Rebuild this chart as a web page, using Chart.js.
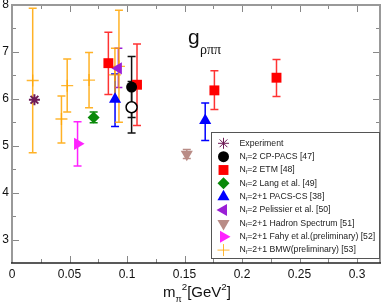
<!DOCTYPE html>
<html>
<head>
<meta charset="utf-8">
<script src="https://cdn.jsdelivr.net/npm/chart.js@4.4.0/dist/chart.umd.min.js"></script>
<style>
  html, body { margin: 0; padding: 0; background: #fff; }
  #wrap { width: 382px; height: 305px; }
</style>
</head>
<body>
<div id="wrap"><canvas id="gChart" width="382" height="305"></canvas></div>
<script>
// x = m_pi^2 [GeV^2], y = g_rho pi pi ; lo / hi = ends of the error bars
const expX = [0.0195];
const expY = [5.98];

const cpX = [0.104, 0.104];
const cpY = [6.25, 5.82];
const cpLo = [5.6, 5.27];
const cpHi = [6.9, 6.37];

const etmX = [0.0838, 0.1087, 0.176, 0.23];
const etmY = [6.76, 6.3, 6.18, 6.45];
const etmLo = [6.09, 5.43, 5.77, 6.05];
const etmHi = [7.42, 7.17, 6.6, 6.84];

const langX = [0.071];
const langY = [5.6];
const langLo = [5.49];
const langHi = [5.72];

const pacsX = [0.0896, 0.168];
const pacsY = [5.99, 5.54];
const pacsLo = [5.41, 5.11];
const pacsHi = [6.53, 5.91];

const pelX = [0.0925];
const pelY = [6.65];
const pelLo = [6.24];
const pelHi = [7.08];

const hsX = [0.152];
const hsY = [4.82];
const hsLo = [4.73];
const hsHi = [4.92];

const fahyX = [0.057];
const fahyY = [5.04];
const fahyLo = [4.57];
const fahyHi = [5.51];

const bmwX = [0.018, 0.043, 0.048, 0.067, 0.0895, 0.093];
const bmwY = [6.39, 5.57, 6.28, 6.4, 6.51, 6.69];
const bmwLo = [4.85, 5.06, 5.72, 5.81, 5.95, 5.5];
const bmwHi = [7.93, 6.06, 6.85, 6.99, 7.08, 7.89];

const xTickValues = [0, 0.025, 0.05, 0.075, 0.1, 0.125, 0.15, 0.175, 0.2, 0.225, 0.25, 0.275, 0.3];
const xTicksMajor = [0, 0.05, 0.1, 0.15, 0.2, 0.25, 0.3];
const yTicksMajor = [3, 4, 5, 6, 7, 8];

function pts(xs, ys) {
  return xs.map((x, i) => ({ x: x, y: ys[i] }));
}

const FONT = "'Liberation Sans', Arial, sans-serif";

// error bars, drawn under the markers
const errorBars = {
  id: "errorBars",
  beforeDatasetsDraw(chart) {
    const ctx = chart.ctx;
    const xs = chart.scales.x, ys = chart.scales.y;
    chart.data.datasets.forEach((ds) => {
      if (!ds.lo) return;
      ctx.save();
      ctx.strokeStyle = ds.barColor;
      ctx.lineWidth = 1.5;
      ds.data.forEach((p, j) => {
        const x = xs.getPixelForValue(p.x);
        const y1 = ys.getPixelForValue(ds.lo[j]);
        const y2 = ys.getPixelForValue(ds.hi[j]);
        ctx.beginPath();
        ctx.moveTo(x, y1); ctx.lineTo(x, y2);
        ctx.moveTo(x - 4, y1); ctx.lineTo(x + 4, y1);
        ctx.moveTo(x - 4, y2); ctx.lineTo(x + 4, y2);
        ctx.stroke();
      });
      ctx.restore();
    });
  }
};

// frame with inward ticks on all four sides
const frameTicks = {
  id: "frameTicks",
  afterDatasetsDraw(chart) {
    const ctx = chart.ctx;
    const a = chart.chartArea;
    const xs = chart.scales.x, ys = chart.scales.y;
    ctx.save();
    ctx.strokeStyle = "#888";
    ctx.lineWidth = 1;
    xTickValues.forEach((v) => {
      if (v <= xs.min || v >= xs.max) return;
      const major = xTicksMajor.some((m) => Math.abs(m - v) < 1e-6);
      const len = major ? 7 : 4;
      const x = Math.round(xs.getPixelForValue(v)) + 0.5;
      ctx.beginPath();
      ctx.moveTo(x, a.bottom); ctx.lineTo(x, a.bottom - len);
      ctx.moveTo(x, a.top); ctx.lineTo(x, a.top + len);
      ctx.stroke();
    });
    ys.ticks.forEach((t) => {
      if (t.value <= ys.min || t.value >= ys.max) return;
      const major = yTicksMajor.includes(t.value);
      const len = major ? 7 : 4;
      const y = Math.round(ys.getPixelForValue(t.value)) + 0.5;
      ctx.beginPath();
      ctx.moveTo(a.left, y); ctx.lineTo(a.left + len, y);
      ctx.moveTo(a.right, y); ctx.lineTo(a.right - len, y);
      ctx.stroke();
    });
    ctx.lineWidth = 2;
    ctx.strokeStyle = "#999";
    ctx.beginPath();
    ctx.moveTo(a.left, a.bottom); ctx.lineTo(a.left, a.top);
    ctx.lineTo(a.right, a.top); ctx.lineTo(a.right, a.bottom);
    ctx.stroke();
    ctx.strokeStyle = "#222";
    ctx.lineWidth = 1.5;
    ctx.beginPath();
    ctx.moveTo(a.left - 1, a.bottom); ctx.lineTo(a.right + 1, a.bottom);
    ctx.stroke();
    ctx.restore();
  }
};

// draws text pieces in a row; kind "n" normal, "sub", "sup"
function drawRich(ctx, parts, x, y, size) {
  parts.forEach(([txt, kind]) => {
    let s = size, dy = 0;
    if (kind === "sub") { s = size * 0.6; dy = size * 0.3; }
    if (kind === "sup") { s = size * 0.65; dy = -size * 0.45; }
    ctx.font = s + "px " + FONT;
    ctx.fillText(txt, x, y + dy);
    x += ctx.measureText(txt).width;
  });
  return x;
}

const textBits = {
  id: "textBits",
  afterDraw(chart) {
    const ctx = chart.ctx;
    ctx.save();
    ctx.fillStyle = "#111";
    ctx.textBaseline = "alphabetic";
    ctx.textAlign = "left";
    // panel label g_rho pi pi
    ctx.font = "21px " + FONT;
    ctx.fillText("g", 188, 44);
    ctx.font = "14px 'Liberation Serif', serif";
    ctx.fillText("ρππ", 200, 54);
    // x axis title
    const parts = [["m", "n"], ["π", "sub"], ["2", "sup"], ["[GeV", "n"], ["2", "sup"], ["]", "n"]];
    drawRich(ctx, parts, 163, 297, 15);
    ctx.restore();
  }
};

// legend box inside the plot, with N_f subscripts
const legendBox = {
  id: "legendBox",
  afterDraw(chart) {
    const ctx = chart.ctx;
    ctx.save();
    ctx.fillStyle = "#fff";
    ctx.fillRect(211, 132, 168, 126);
    ctx.strokeStyle = "#555";
    ctx.lineWidth = 1;
    ctx.strokeRect(211.5, 132.5, 168, 126);
    chart.data.datasets.forEach((ds, i) => {
      const y = 143.3 + i * 13.35;
      ctx.fillStyle = ds.legendFill;
      ctx.strokeStyle = ds.borderColor;
      Chart.helpers.drawPoint(ctx, {
        pointStyle: ds.pointStyle,
        radius: ds.pointRadius,
        rotation: ds.rotation || 0,
        borderWidth: ds.pointStyle === "cross" || ds.pointStyle === "star" ? ds.borderWidth : 0
      }, 223.5, y);
      ctx.fillStyle = "#222";
      ctx.textBaseline = "middle";
      const m = ds.label.match(/^N_f(.*)$/);
      if (m) {
        drawRich(ctx, [["N", "n"], ["f", "sub"], [m[1], "n"]], 239.5, y, 8.7);
      } else {
        ctx.font = "8.7px " + FONT;
        ctx.fillText(ds.label, 239.5, y);
      }
    });
    ctx.restore();
  }
};

function series(label, xs, ys, lo, hi, style) {
  return Object.assign({
    label: label,
    data: pts(xs, ys),
    lo: lo,
    hi: hi,
    showLine: false,
    borderWidth: 0
  }, style);
}

const datasets = [
  series("Experiment", expX, expY, null, null, {
    pointStyle: "star", pointRadius: 5.5, borderColor: "#6e1a55", backgroundColor: "#6e1a55",
    legendFill: "#6e1a55", borderWidth: 2
  }),
  series("N_f=2 CP-PACS [47]", cpX, cpY, cpLo, cpHi, {
    pointStyle: "circle", pointRadius: 5.5, borderColor: "#000",
    backgroundColor: ["#000", "#fff"], pointBorderWidth: [0, 1.5],
    legendFill: "#000", barColor: "#111"
  }),
  series("N_f=2 ETM [48]", etmX, etmY, etmLo, etmHi, {
    pointStyle: "rect", pointRadius: 7, borderColor: "#f00", backgroundColor: "#f00",
    legendFill: "#f00", barColor: "rgba(255,0,0,0.8)"
  }),
  series("N_f=2 Lang et al. [49]", langX, langY, langLo, langHi, {
    pointStyle: "rectRot", pointRadius: 6, borderColor: "#0a8a0a", backgroundColor: "#0a8a0a",
    legendFill: "#0a8a0a", barColor: "#0a8a0a"
  }),
  series("N_f=2+1 PACS-CS [38]", pacsX, pacsY, pacsLo, pacsHi, {
    pointStyle: "triangle", pointRadius: 7, borderColor: "#0000ff", backgroundColor: "#0000ff",
    legendFill: "#0000ff", barColor: "#0000ff"
  }),
  series("N_f=2 Pelissier et al. [50]", pelX, pelY, pelLo, pelHi, {
    pointStyle: "triangle", rotation: -90, pointRadius: 7, borderColor: "#9a1fd6", backgroundColor: "#9a1fd6",
    legendFill: "#9a1fd6", barColor: "#9a1fd6"
  }),
  series("N_f=2+1 Hadron Spectrum [51]", hsX, hsY, hsLo, hsHi, {
    pointStyle: "triangle", rotation: 180, pointRadius: 7, borderColor: "#b98c86", backgroundColor: "#b98c86",
    legendFill: "#b98c86", barColor: "#b98c86"
  }),
  series("N_f=2+1 Fahy et al.(preliminary) [52]", fahyX, fahyY, fahyLo, fahyHi, {
    pointStyle: "triangle", rotation: 90, pointRadius: 7, borderColor: "#ff22ff", backgroundColor: "#ff22ff",
    legendFill: "#ff22ff", barColor: "#ff22ff"
  }),
  series("N_f=2+1 BMW(preliminary) [53]", bmwX, bmwY, bmwLo, bmwHi, {
    pointStyle: "cross", pointRadius: 6, borderColor: "rgba(255,165,0,0.8)", backgroundColor: "rgba(255,165,0,0.8)",
    legendFill: "rgba(255,165,0,0.8)", barColor: "rgba(255,165,0,0.85)", borderWidth: 1.3
  })
];

const ctx = document.getElementById("gChart").getContext("2d");
const gChart = new Chart(ctx, {
  type: "scatter",
  data: { datasets: datasets },
  options: {
    responsive: false,
    animation: false,
    events: [],
    layout: { autoPadding: false, padding: { top: 5, right: 2, left: 0, bottom: 0 } },
    plugins: {
      legend: { display: false },
      tooltip: { enabled: false }
    },
    scales: {
      x: {
        type: "linear",
        min: 0,
        max: 0.32,
        grid: { display: false, drawTicks: false },
        border: { display: false },
        afterFit(scale) {
          scale.height = 42;
          scale.paddingLeft = 0;
          scale.paddingRight = 0;
        },
        afterBuildTicks(scale) {
          scale.ticks = xTicksMajor.map((v) => ({ value: v }));
        },
        ticks: {
          autoSkip: false,
          maxRotation: 0,
          padding: 4,
          color: "#111",
          font: { size: 12, family: FONT },
          callback(v) {
            return String(+v.toFixed(2));
          }
        }
      },
      y: {
        min: 2.5,
        max: 8,
        grid: { display: false, drawTicks: false },
        border: { display: false },
        afterFit(scale) {
          scale.width = 12;
          scale.paddingTop = 0;
          scale.paddingBottom = 0;
        },
        ticks: {
          stepSize: 0.5,
          padding: 3,
          color: "#111",
          font: { size: 12, family: FONT },
          callback(v) {
            return Number.isInteger(v) ? String(v) : "";
          }
        }
      }
    }
  },
  plugins: [errorBars, frameTicks, textBits, legendBox]
});
</script>
</body>
</html>
